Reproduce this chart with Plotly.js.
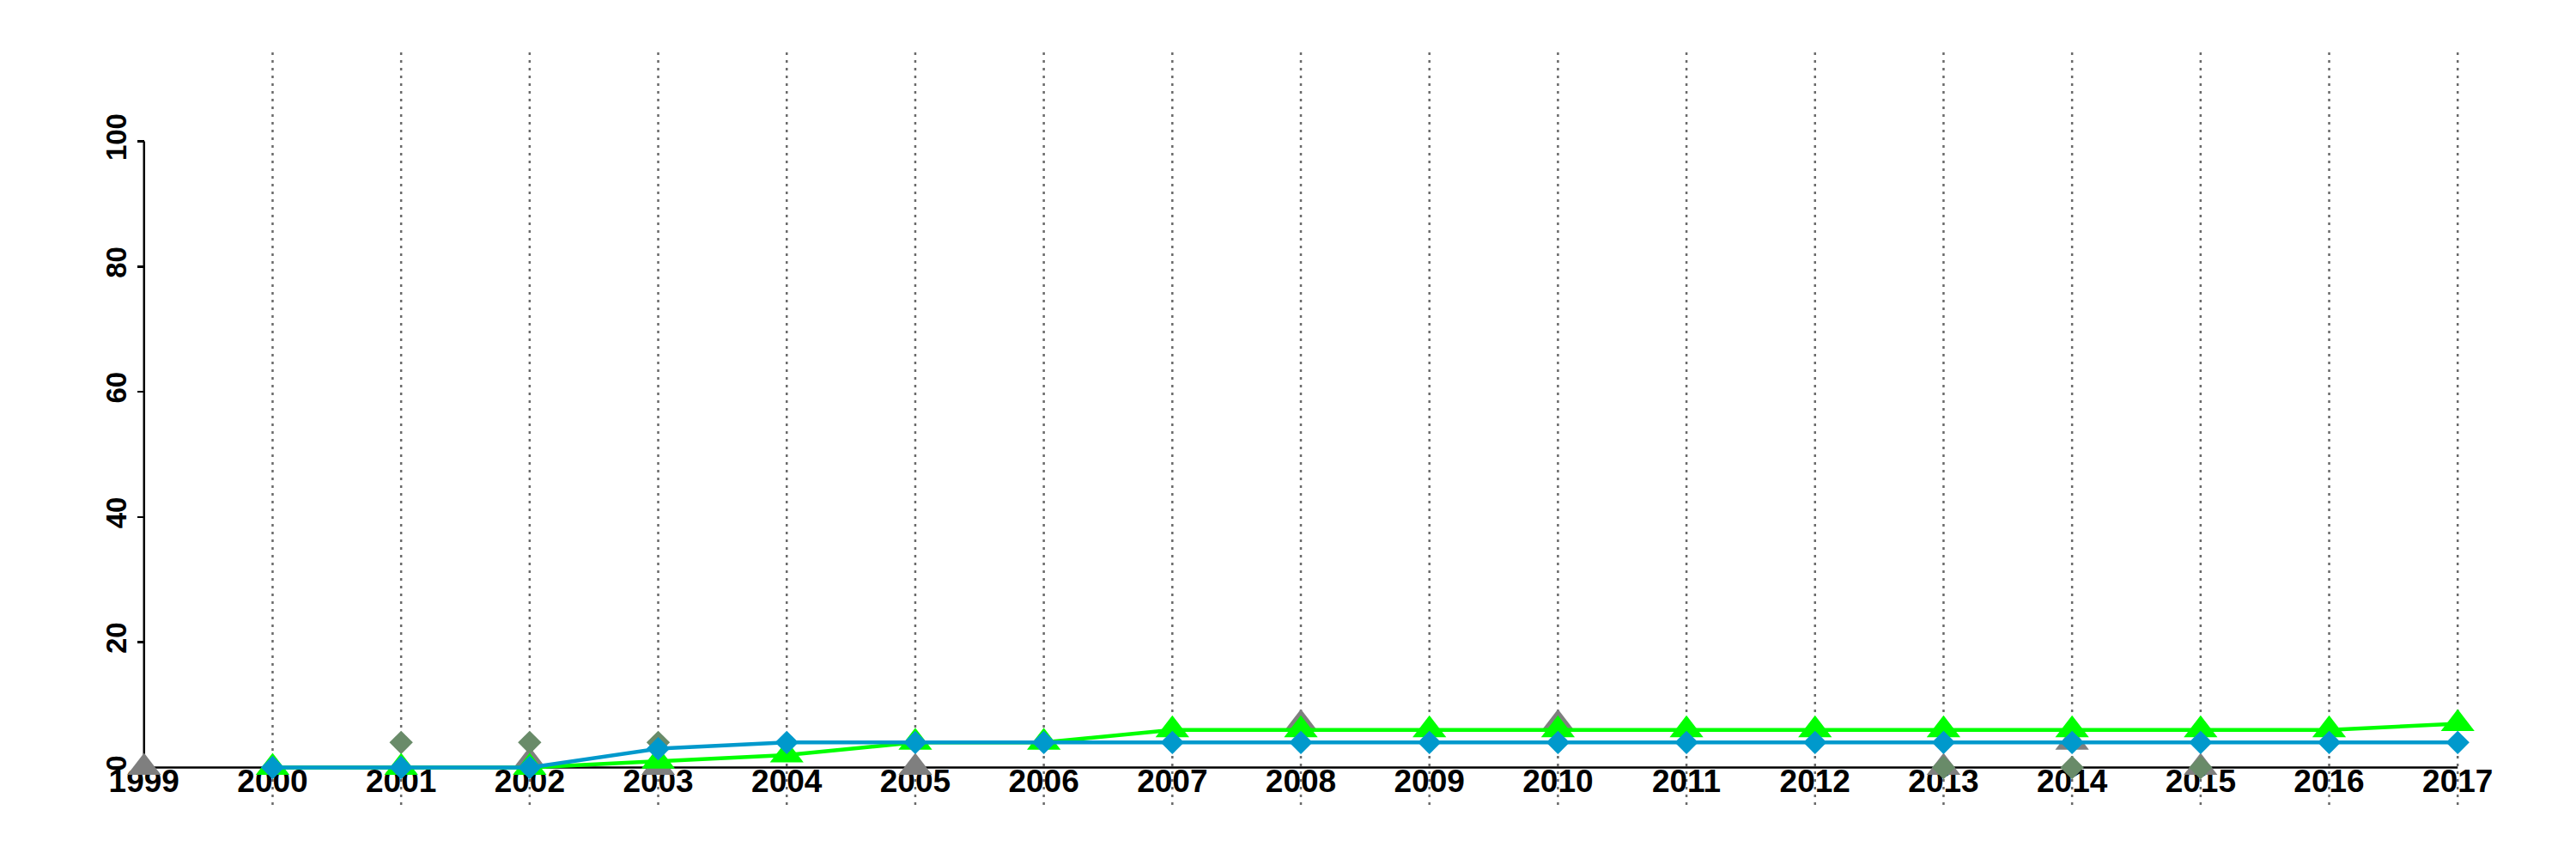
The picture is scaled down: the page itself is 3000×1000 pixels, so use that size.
<!DOCTYPE html>
<html>
<head>
<meta charset="utf-8">
<script src="https://cdn.plot.ly/plotly-3.0.1.min.js"></script>
<style>html,body{margin:0;padding:0;background:#fff;}</style>
</head>
<body>
<div id="chart" style="width:3000px;height:1000px;"></div>
<script>
// ---- data ----
var years = [1999,2000,2001,2002,2003,2004,2005,2006,2007,2008,2009,2010,2011,2012,2013,2014,2015,2016,2017];
var yearLabels = ["1999","2000","2001","2002","2003","2004","2005","2006","2007","2008","2009","2010","2011","2012","2013","2014","2015","2016","2017"];
var gridYears = [2000,2001,2002,2003,2004,2005,2006,2007,2008,2009,2010,2011,2012,2013,2014,2015,2016,2017];
var blueValues  = [null,0,0,0,3,4,4,4,4,4,4,4,4,4,4,4,4,4,4];
var greenValues = [null,0,0,0,1,2,4,4,6,6,6,6,6,6,6,6,6,6,7];
var grayTriYears  = [1999,2002,2003,2005,2008,2010,2013,2014,2015];
var grayTriValues = [0,1,0,0,7,7,0,4,0];
var sageDiaYears  = [2001,2002,2003,2013,2014,2015];
var sageDiaValues = [4,4,4,0,0,0];
var yTicks = [0,20,40,60,80,100];

var xFont = {family: 'Liberation Sans, Arial, Helvetica, sans-serif', size: 37, color: '#000', weight: 'bold'};
var yFont = {family: 'Liberation Sans, Arial, Helvetica, sans-serif', size: 33, color: '#000', weight: 'bold'};

var traces = [
  {x: grayTriYears, y: grayTriValues, type: 'scatter', mode: 'markers', cliponaxis: false,
   marker: {symbol: 'triangle-up', size: 34, color: '#7f7f7f', line: {width: 0}}, hoverinfo: 'skip'},
  {x: sageDiaYears, y: sageDiaValues, type: 'scatter', mode: 'markers', cliponaxis: false,
   marker: {symbol: 'diamond', size: 21, color: '#698b69', line: {width: 0}}, hoverinfo: 'skip'},
  {x: years, y: greenValues, type: 'scatter', mode: 'lines+markers', cliponaxis: false,
   line: {color: '#00ff00', width: 4.5},
   marker: {symbol: 'triangle-up', size: 34, color: '#00ff00', line: {width: 0}}, hoverinfo: 'skip'},
  {x: years, y: blueValues, type: 'scatter', mode: 'lines+markers', cliponaxis: false,
   line: {color: '#0099cc', width: 4.5},
   marker: {symbol: 'diamond', size: 21, color: '#0099cc', line: {width: 0}}, hoverinfo: 'skip'}
];

var xr = [1998.28, 2017.72];
var yr = [-5.97, 114.75];

var shapes = [];
gridYears.forEach(function (yy) {
  shapes.push({type: 'line', xref: 'x', yref: 'paper', x0: yy, x1: yy, y0: 0, y1: 1,
    line: {color: '#6a6a6a', width: 2.5, dash: '3px,6px'}, layer: 'below'});
});
shapes.push({type: 'line', xref: 'x', yref: 'y', x0: years[0], x1: years[0], y0: yTicks[0], y1: yTicks[yTicks.length-1],
  line: {color: '#000', width: 2.5}, layer: 'below'});
shapes.push({type: 'line', xref: 'x', yref: 'y', x0: years[0], x1: years[years.length-1], y0: 0, y1: 0,
  line: {color: '#000', width: 2.5}, layer: 'below'});

var layout = {
  width: 3000, height: 1000,
  margin: {l: 60, r: 30, t: 57, b: 63},
  paper_bgcolor: '#fff', plot_bgcolor: '#fff',
  showlegend: false,
  xaxis: {
    range: xr, tickmode: 'array', tickvals: years, ticktext: yearLabels,
    showgrid: false, zeroline: false, showline: false, ticks: '',
    anchor: 'free', position: (0 - yr[0]) / (yr[1] - yr[0]),
    ticklabelstandoff: -9,
    tickfont: xFont, layer: 'below traces', fixedrange: true
  },
  yaxis: {
    range: yr, tickmode: 'array', tickvals: yTicks, ticktext: yTicks.map(String),
    showgrid: false, zeroline: false, showline: false,
    ticks: 'outside', ticklen: 8, tickwidth: 2.5, tickcolor: '#000',
    anchor: 'free', position: (years[0] - xr[0]) / (xr[1] - xr[0]),
    tickangle: -90, tickfont: yFont, layer: 'below traces', fixedrange: true
  },
  shapes: shapes
};

Plotly.newPlot('chart', traces, layout, {staticPlot: true, displayModeBar: false});
</script>
</body>
</html>
